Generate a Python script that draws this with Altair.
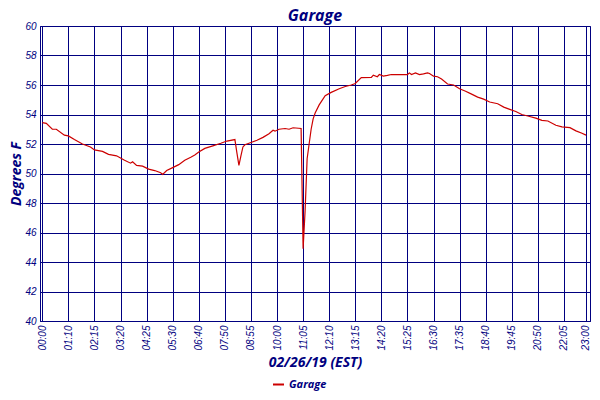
import altair as alt
import pandas as pd

# tick labels (evenly spaced sample positions)
tick_pos = [0, 13, 26, 39, 52, 65, 78, 91, 104, 117, 130, 143, 156, 169, 182, 195, 208, 221, 234, 247, 260, 271]
tick_lbl = ["00:00", "01:10", "02:15", "03:20", "04:25", "05:30", "06:40", "07:50", "08:55", "10:00", "11:05",
            "12:10", "13:15", "14:20", "15:25", "16:30", "17:35", "18:40", "19:45", "20:50", "22:05", "23:00"]

# readings: sample index and temperature (F)
sample = [0, 2, 5, 7, 11, 13, 16, 20, 24, 26, 30, 33, 37, 41, 44, 45, 47, 50, 53, 56, 59, 60, 62, 65, 68, 71,
          74, 76, 78, 81, 85, 89, 92, 96, 97, 98, 99, 100, 101, 103, 107, 110, 113, 115, 116, 118, 121, 123, 125,
          129, 130, 131, 132, 133, 134, 135, 136, 138, 141, 144, 148, 151, 154, 156, 159, 164, 165, 167, 168, 170,
          172, 174, 182, 183, 184, 186, 188, 190, 192, 193, 195, 197, 199, 202, 205, 208, 211, 214, 217, 220, 223,
          227, 230, 233, 236, 239, 242, 246, 249, 252, 256, 259, 263, 266, 269, 271]
temp = [53.45, 53.4, 53.0, 53.0, 52.6, 52.55, 52.3, 52.0, 51.8, 51.6, 51.5, 51.3, 51.2, 50.9, 50.7, 50.8,
        50.55, 50.5, 50.3, 50.2, 50.05, 49.93, 50.2, 50.4, 50.6, 50.9, 51.1, 51.25, 51.45, 51.7, 51.87, 52.05,
        52.2, 52.3, 51.4, 50.55, 51.2, 51.8, 51.95, 52.05, 52.25, 52.45, 52.7, 52.93, 52.87, 53.0, 53.05, 53.0,
        53.1, 53.05, 44.9, 47.5, 51.0, 52.0, 53.0, 53.7, 54.1, 54.65, 55.27, 55.5, 55.75, 55.9, 56.0, 56.1,
        56.5, 56.51, 56.67, 56.56, 56.71, 56.6, 56.65, 56.71, 56.71, 56.82, 56.71, 56.82, 56.71, 56.75, 56.82,
        56.78, 56.6, 56.56, 56.4, 56.07, 56.0, 55.75, 55.58, 55.38, 55.18, 55.04, 54.85, 54.73, 54.5, 54.35,
        54.2, 54.0, 53.9, 53.75, 53.6, 53.56, 53.27, 53.16, 53.11, 52.89, 52.73, 52.6]

df = pd.DataFrame({"sample": sample, "temp": temp, "series": ["Garage"] * len(sample)})

NAVY = "#000080"
FONT = "Open Sans"
LFONT = "Liberation Sans"

pos_js = "[" + ",".join(str(p) for p in tick_pos) + "]"
lbl_js = "[" + ",".join("'" + l + "'" for l in tick_lbl) + "]"

chart = alt.Chart(df).mark_line(strokeWidth=1.2, interpolate="linear").encode(
    x=alt.X("sample:Q",
            scale=alt.Scale(domain=[-1.15, 273], nice=False, zero=False),
            axis=alt.Axis(values=tick_pos,
                          labelExpr=f"{lbl_js}[indexof({pos_js}, datum.value)]",
                          labelAngle=-90, labelAlign="right", labelBaseline="middle",
                          labelPadding=4, ticks=False, labelFlush=False, labelOverlap=False,
                          title="02/26/19 (EST)", titlePadding=5)),
    y=alt.Y("temp:Q",
            scale=alt.Scale(domain=[40, 60], nice=False, zero=False),
            axis=alt.Axis(values=list(range(40, 61, 2)), ticks=False, labelPadding=4,
                          title="Degrees F", titlePadding=1)),
    color=alt.Color("series:N",
                    scale=alt.Scale(domain=["Garage"], range=["#cc0000"]),
                    legend=alt.Legend(title=None, orient="none", legendX=232, legendY=352,
                                      symbolType="stroke", symbolSize=121, symbolStrokeWidth=2,
                                      labelFont=FONT, labelFontSize=11, labelFontStyle="italic",
                                      labelFontWeight="bold", labelColor=NAVY, padding=0,
                                      labelOffset=4)),
).properties(
    width=550, height=295,
    title=alt.Title("Garage", font=FONT, fontSize=16, fontStyle="italic", fontWeight="bold",
                    color=NAVY, anchor="middle", offset=0, dy=3),
    autosize=alt.AutoSizeParams(type="none"),
    padding={"left": 32, "top": 18, "right": 2, "bottom": 71},
    background="white",
).configure_axis(
    domainColor=NAVY, domainWidth=1, gridColor=NAVY, gridWidth=1, gridOpacity=1,
    labelColor=NAVY, labelFont=LFONT, labelFontSize=10, labelFontStyle="italic",
    titleColor=NAVY, titleFont=FONT, titleFontSize=14, titleFontStyle="italic", titleFontWeight="bold",
).configure_view(stroke=NAVY, strokeWidth=1)

chart.save("out.html", embed_options={"renderer": "svg", "actions": False})
